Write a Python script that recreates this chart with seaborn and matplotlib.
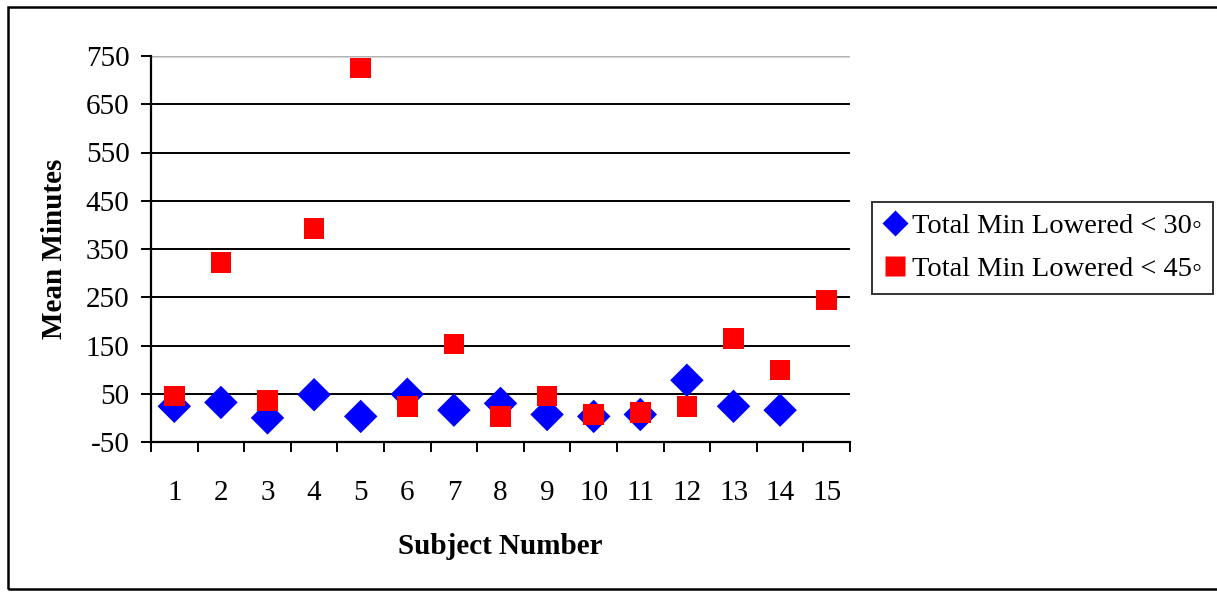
import matplotlib
matplotlib.use("Agg")
import matplotlib.pyplot as plt
from matplotlib.patches import Rectangle
from matplotlib.lines import Line2D
import numpy as np
import pandas as pd
import seaborn as sns

# Mean minutes per subject for each lowered-arm threshold
subjects = list(range(1, 16))
lowered_30 = [24, 32, 0, 48, 3, 49, 16, 30, 7, 3, 7, 78, 24, 16, np.nan]
lowered_45 = [45, 322, 36, 393, 725, 24, 153, 3, 45, 7, 11, 24, 164, 99, 244]
series_names = ["Total Min Lowered < 30\u25e6", "Total Min Lowered < 45\u25e6"]
y_ticks = [-50, 50, 150, 250, 350, 450, 550, 650, 750]

sns.set_theme(style="white")
plt.rcParams["font.family"] = ["Liberation Serif", "DejaVu Serif"]
plt.rcParams.update({"text.color": "black", "axes.labelcolor": "black",
                     "xtick.color": "black", "ytick.color": "black"})

df = pd.DataFrame({
    "Subject": subjects * 2,
    "Minutes": lowered_30 + lowered_45,
    "Series": [series_names[0]] * 15 + [series_names[1]] * 15,
})

fig = plt.figure(figsize=(12.17, 5.93), dpi=100)
ax = fig.add_axes([151 / 1217, 1 - 442 / 593, (850 - 151) / 1217, (442 - 56) / 593])

# Grid lines drawn first so markers sit on top
for yv in y_ticks[1:-1]:
    ax.axhline(yv, color="black", lw=1.4, zorder=1)
ax.axhline(750, color="#b0b0b0", lw=1.0, zorder=1)
ax.axhline(750 - 1.2, color="#d8d8d8", lw=0.8, zorder=1)

d30 = df[df["Series"] == series_names[0]]
d45 = df[df["Series"] == series_names[1]]
sns.scatterplot(data=d30, x="Subject", y="Minutes", marker="D", s=290,
                color="#0000ff", edgecolor="none", linewidth=0, ax=ax,
                zorder=3, legend=False)
sns.scatterplot(data=d45, x="Subject", y="Minutes", marker="s", s=220,
                color="#ff0000", edgecolor="none", linewidth=0, ax=ax,
                zorder=4, legend=False)

ax.set_xlim(0.5, 15.5)
ax.set_ylim(-50, 750)
ax.set_yticks(y_ticks)
ax.set_yticklabels([str(v) for v in y_ticks], fontsize=21)

# Tick marks at category boundaries, labels at category centres
ax.set_xticks(np.arange(0.5, 16, 1.0))
ax.set_xticklabels([])
ax.set_xticks(subjects, minor=True)
ax.set_xticklabels([str(s) for s in subjects], minor=True, fontsize=21)
ax.tick_params(axis="x", which="major", direction="out", length=7.5,
               width=1.4, color="black", bottom=True)
ax.tick_params(axis="x", which="minor", length=0, pad=27)
ax.tick_params(axis="y", which="major", direction="out", length=7.5,
               width=1.4, color="black", left=True, pad=8)

for side in ["top", "right"]:
    ax.spines[side].set_visible(False)
for side in ["left", "bottom"]:
    ax.spines[side].set_color("black")
    ax.spines[side].set_linewidth(1.6)

ax.set_xlabel("Subject Number", fontsize=21, fontweight="bold", labelpad=20)
ax.set_ylabel("Mean Minutes", fontsize=21, fontweight="bold", labelpad=13)

handles = [
    Line2D([], [], marker="D", color="none", markerfacecolor="#0000ff",
           markeredgecolor="none", markersize=13),
    Line2D([], [], marker="s", color="none", markerfacecolor="#ff0000",
           markeredgecolor="none", markersize=14),
]
leg = fig.legend(handles, series_names, loc="upper left",
                 bbox_to_anchor=(872 / 1217, 1 - 202 / 593),
                 bbox_transform=fig.transFigure, fontsize=20.5, frameon=True,
                 fancybox=False, borderpad=0.4, handlelength=0.8,
                 handletextpad=0.2, labelspacing=0.6, borderaxespad=0)
leg.get_frame().set_edgecolor("black")
leg.get_frame().set_linewidth(1.4)

# Outer chart border
fig.patches.append(Rectangle((8 / 1217, 1 - 589 / 593), 1.0, (589 - 7) / 593,
                             transform=fig.transFigure, fill=False,
                             edgecolor="black", lw=1.8, clip_on=False))

fig.savefig("out.png", dpi=100)
